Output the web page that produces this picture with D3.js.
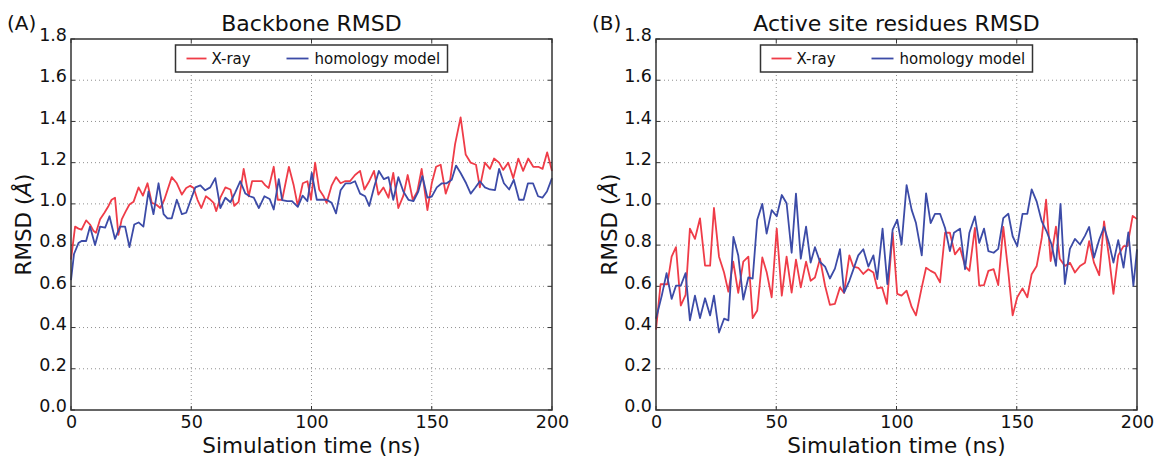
<!DOCTYPE html>
<html>
<head>
<meta charset="utf-8">
<script src="https://cdn.jsdelivr.net/npm/d3@7/dist/d3.min.js"></script>
<style>
  body { margin: 0; background: #fff; }
  text { font-family: "DejaVu Sans", sans-serif; fill: #111; }
</style>
</head>
<body>
<div id="chart"></div>
<script>
// ---- data: [time (ns), RMSD (Å)] ----
const xTicks = [0, 50, 100, 150, 200];
const yTicks = [0.0, 0.2, 0.4, 0.6, 0.8, 1.0, 1.2, 1.4, 1.6, 1.8];
const seriesNames = ["X-ray", "homology model"];
const seriesColors = ["#ef3c48", "#3c4ba7"];

const backboneXray = [
  [0,0.73],[1.7,0.89],[3.1,0.88],[4.4,0.875],[6.3,0.92],[7.9,0.9],[9.3,0.87],[10.4,0.86],[12.1,0.925],
  [13.9,0.957],[15.6,0.99],[16.9,1.02],[18.3,1.03],[19.7,0.85],[21.1,0.925],[22.8,0.965],[24.3,0.997],
  [26,1.01],[28.1,1.08],[29.9,1.04],[31.8,1.1],[33.6,1.005],[35.4,0.997],[37.1,0.98],[38.8,1.02],
  [41.9,1.13],[44,1.1],[46.1,1.045],[47.9,1.077],[49.6,1.088],[51,1.077],[52.6,1.02],[54.2,0.98],
  [56.1,1.037],[57.6,1.024],[59.3,1.005],[60.4,0.965],[62.1,1.03],[64.2,1.08],[66.3,1.07],[67.9,0.99],
  [69.7,1.01],[71.8,1.17],[73.9,1.037],[75.3,1.11],[77.4,1.11],[79.4,1.11],[80.8,1.09],[82.2,1.077],
  [84.3,1.18],[86,1.02],[87.8,1.02],[90.6,1.18],[92.6,1.09],[94.3,0.99],[96.4,1.1],[98.3,1.11],
  [99.8,1.02],[101.5,1.2],[103.2,1.07],[104.9,1.04],[106.3,1.005],[108.4,1.09],[110.2,1.13],[112.1,1.1],
  [113.9,1.11],[116,1.11],[118.1,1.14],[120.2,1.16],[122,1.07],[124,1.11],[126,1.16],[127.8,1.045],
  [129.9,1.08],[132,1.03],[134,1.15],[136.1,0.98],[138.2,1.04],[140,1.14],[142.1,1.02],[144,1.06],
  [145.8,1.17],[148.2,0.97],[150,1.1],[151.8,1.18],[153.7,1.19],[155.8,1.05],[157.6,1.11],[159.7,1.29],
  [162,1.42],[164.1,1.24],[166.2,1.2],[168.4,1.19],[170,1.08],[172.1,1.2],[174.2,1.17],[175.9,1.22],
  [178,1.2],[179.7,1.165],[181.8,1.2],[183.9,1.125],[186,1.22],[188,1.16],[190.1,1.22],[192.2,1.18],
  [194.3,1.18],[196.1,1.17],[198,1.25],[200,1.16]
];

const backboneModel = [
  [0,0.63],[1.25,0.757],[3.1,0.81],[4.4,0.82],[6.3,0.82],[7.9,0.89],[10,0.8],[12.1,0.89],[14.2,0.885],
  [16,0.94],[18.3,0.83],[20.4,0.89],[22.5,0.89],[24.3,0.79],[26.3,0.9],[28.1,0.91],[30.1,0.89],
  [32.2,1.06],[34.3,0.95],[36.4,1.1],[38.5,0.95],[40.1,0.93],[41.9,0.93],[44,1.02],[46.1,0.95],
  [47.9,0.957],[49.6,1.013],[51.7,1.08],[53.8,1.09],[55.8,1.066],[57.9,1.08],[60,1.125],[62.1,0.98],
  [64.2,1.03],[66.3,1.008],[68.3,1.056],[70.4,1.11],[72.5,1.05],[74.3,1.037],[76,1.03],[78.1,0.98],
  [80.4,1.037],[82.6,1.024],[84.3,0.973],[86.4,1.12],[87.8,1.018],[89.9,1.013],[91.9,1.013],[94.3,0.986],
  [96.3,1.04],[98.3,1.013],[100.1,1.15],[102.2,1.02],[104.2,1.02],[106.3,1.02],[108.4,1.005],[110.2,0.954],
  [112.1,1.066],[114.2,1.1],[116.3,1.1],[118.1,1.11],[120.2,1.05],[122.3,1.037],[124,0.99],[126,1.08],
  [128,1.16],[130.1,1.12],[132,1.13],[134,1.02],[136.1,1.13],[138.2,1.06],[140.3,1.02],[142.4,1.013],
  [144.4,1.06],[146.1,1.135],[148.2,1.03],[150,1.035],[152.1,1.08],[154.2,1.1],[156.2,1.1],[158.3,1.117],
  [160.1,1.186],[162,1.15],[164.3,1.1],[166.2,1.05],[168,1.077],[170,1.11],[172.1,1.08],[174.2,1.07],
  [176.3,1.067],[178,1.17],[180,1.1],[182.2,1.07],[184.1,1.117],[186.3,1.02],[188.2,1.02],[190,1.1],
  [192.1,1.1],[194.2,1.037],[196,1.03],[197.9,1.06],[200,1.125]
];

const activeXray = [
  [0,0.39],[1.9,0.61],[3.3,0.61],[4.7,0.61],[6.5,0.744],[8.3,0.79],[10.3,0.507],[12.3,0.558],[14.1,0.88],
  [16.2,0.83],[18.3,0.93],[20.4,0.7],[22.5,0.7],[24.1,0.98],[26.2,0.744],[28.3,0.667],[30.1,0.574],
  [32.1,0.72],[34.2,0.568],[36.3,0.72],[38.4,0.744],[40.2,0.446],[42.1,0.483],[44.2,0.74],[46,0.67],
  [48.1,0.547],[50.2,0.88],[52.3,0.555],[54.3,0.744],[56.4,0.57],[58.2,0.73],[60.2,0.595],[62.4,0.72],
  [64.3,0.627],[66.1,0.643],[68.2,0.734],[70.3,0.603],[72.3,0.51],[74.4,0.515],[76.5,0.595],[78.2,0.568],
  [80.4,0.75],[82,0.696],[84.1,0.69],[86.2,0.66],[88.3,0.683],[90.4,0.667],[92,0.59],[94,0.595],
  [96,0.515],[98.4,0.86],[100.3,0.563],[102.1,0.555],[104.2,0.579],[106.3,0.5],[108.1,0.459],[110.5,0.595],
  [112.3,0.69],[114.2,0.675],[116,0.664],[118.1,0.619],[120.2,0.86],[122.2,0.86],[124.3,0.755],[126.4,0.787],
  [128.5,0.698],[130.3,0.675],[132.6,0.883],[134.4,0.603],[136.4,0.606],[138.2,0.675],[140.4,0.683],
  [142.3,0.606],[144.4,0.888],[146.5,0.667],[148.3,0.459],[150.2,0.547],[152.4,0.59],[154.4,0.547],
  [156.2,0.659],[158.3,0.699],[160.4,0.835],[162.2,1.02],[164.1,0.723],[166.3,0.89],[167.9,0.734],
  [170,0.699],[172.1,0.715],[174.2,0.667],[176.3,0.699],[178.4,0.715],[180.1,0.819],[182.1,0.715],
  [184.3,0.654],[186.3,0.915],[188.5,0.731],[190.2,0.563],[192.2,0.75],[194.4,0.795],[196,0.795],
  [198.2,0.942],[200,0.926]
];

const activeModel = [
  [0,0.443],[2.4,0.555],[4.4,0.664],[6.5,0.539],[8.3,0.603],[10.3,0.603],[12.3,0.664],[14.1,0.435],
  [16.2,0.555],[18.3,0.446],[20.4,0.542],[22.5,0.459],[24.1,0.555],[26.2,0.376],[28.3,0.443],[30.1,0.435],
  [32.2,0.84],[34.2,0.75],[36.3,0.536],[38.4,0.643],[40.2,0.638],[42.1,0.923],[44.2,1.0],[46,0.856],
  [48.1,0.97],[50.2,0.94],[52.3,1.043],[54.3,1.003],[56.4,0.763],[58.2,1.05],[60.2,0.734],[62.4,0.89],
  [64.3,0.715],[66.1,0.79],[68.2,0.718],[70.3,0.696],[72.3,0.638],[74.4,0.686],[76.5,0.78],[78.2,0.57],
  [80.4,0.627],[82,0.68],[84.1,0.75],[86.2,0.78],[88.3,0.696],[90.4,0.75],[92,0.635],[94.2,0.88],
  [96.2,0.611],[98.4,0.875],[100.3,0.923],[102.1,0.803],[104.2,1.091],[106.3,0.971],[108.1,0.907],
  [110.5,0.75],[112.3,1.051],[114.2,0.907],[116,0.952],[118.1,0.952],[120.2,0.883],[122.2,0.771],
  [123.9,0.86],[126.4,0.88],[128.5,0.683],[130.3,0.86],[132.6,0.939],[134.4,0.811],[136.4,0.88],
  [138.2,0.771],[140.4,0.763],[142.3,0.782],[144.4,0.931],[146.5,0.952],[148.3,0.843],[150.2,0.795],
  [152.4,0.952],[154.4,0.952],[156.2,1.07],[158.3,1.011],[160.4,0.915],[162.4,0.867],[164.5,0.803],
  [166.3,0.699],[168.2,1.0],[170,0.611],[172.1,0.782],[174.2,0.83],[176.3,0.803],[178.4,0.846],
  [180.1,0.888],[182.1,0.739],[184.3,0.827],[186.3,0.888],[188.5,0.803],[190.2,0.715],[192.2,0.824],
  [194.4,0.691],[196.4,0.862],[198.5,0.603],[200,0.779]
];

const W = 1156, H = 457;
const svg = d3.select("#chart").append("svg")
  .attr("width", W)
  .attr("height", H);

svg.append("rect").attr("width", W).attr("height", H).attr("fill", "#fff");

function drawPanel(cfg) {
  const top = 39, bottom = 410;
  const x = d3.scaleLinear().domain([0, 200]).range([cfg.left, cfg.right]);
  const y = d3.scaleLinear().domain([0, 1.8]).range([bottom, top]);
  const g = svg.append("g");

  // dotted grid
  g.append("g").selectAll("line")
    .data(xTicks.slice(1, -1))
    .enter().append("line")
    .attr("x1", d => x(d)).attr("x2", d => x(d))
    .attr("y1", top).attr("y2", bottom)
    .attr("stroke", "#8f8f8f").attr("stroke-width", 1)
    .attr("stroke-dasharray", "1,3");
  g.append("g").selectAll("line")
    .data(yTicks.slice(1, -1))
    .enter().append("line")
    .attr("x1", cfg.left).attr("x2", cfg.right)
    .attr("y1", d => y(d)).attr("y2", d => y(d))
    .attr("stroke", "#8f8f8f").attr("stroke-width", 1)
    .attr("stroke-dasharray", "1,3");

  // axes (labels only, inward ticks drawn below)
  const xAxis = g.append("g")
    .attr("transform", `translate(0,${bottom})`)
    .call(d3.axisBottom(x).tickValues(xTicks).tickSize(0).tickPadding(6).tickFormat(d3.format("d")));
  xAxis.select(".domain").remove();
  xAxis.selectAll("text").attr("font-size", 17.5).attr("fill", "#111");

  const yAxis = g.append("g")
    .attr("transform", `translate(${cfg.left},0)`)
    .call(d3.axisLeft(y).tickValues(yTicks).tickSize(0).tickPadding(4).tickFormat(d3.format(".1f")));
  yAxis.select(".domain").remove();
  yAxis.selectAll("text").attr("font-size", 17.5).attr("fill", "#111").attr("dy", "0.1em");

  // inward ticks on all four sides
  xTicks.forEach(t => {
    g.append("line").attr("x1", x(t)).attr("x2", x(t)).attr("y1", bottom).attr("y2", bottom - 4).attr("stroke", "#333");
    g.append("line").attr("x1", x(t)).attr("x2", x(t)).attr("y1", top).attr("y2", top + 4).attr("stroke", "#333");
  });
  yTicks.forEach(t => {
    g.append("line").attr("x1", cfg.left).attr("x2", cfg.left + 4).attr("y1", y(t)).attr("y2", y(t)).attr("stroke", "#333");
    g.append("line").attr("x1", cfg.right).attr("x2", cfg.right - 4).attr("y1", y(t)).attr("y2", y(t)).attr("stroke", "#333");
  });

  // series
  const line = d3.line().x(d => x(d[0])).y(d => y(d[1]));
  cfg.series.forEach((s, i) => {
    g.append("path")
      .datum(s)
      .attr("d", line)
      .attr("fill", "none")
      .attr("stroke", seriesColors[i])
      .attr("stroke-width", 1.8)
      .attr("stroke-linejoin", "round");
  });

  // frame
  g.append("rect")
    .attr("x", cfg.left).attr("y", top)
    .attr("width", cfg.right - cfg.left).attr("height", bottom - top)
    .attr("fill", "none").attr("stroke", "#333").attr("stroke-width", 1.5);

  // legend (upper center)
  const cx = (cfg.left + cfg.right) / 2;
  const lw = 272, lh = 27;
  const lx = cx - lw / 2, ly = 45;
  const leg = g.append("g").attr("transform", `translate(${lx},${ly})`);
  leg.append("rect").attr("width", lw).attr("height", lh)
    .attr("fill", "#fff").attr("stroke", "#333").attr("stroke-width", 1.5);
  const offsets = [[11, 31, 36], [111, 133, 139]];
  seriesNames.forEach((name, i) => {
    const o = offsets[i];
    leg.append("line").attr("x1", o[0]).attr("x2", o[1]).attr("y1", lh / 2).attr("y2", lh / 2)
      .attr("stroke", seriesColors[i]).attr("stroke-width", 1.8);
    leg.append("text").attr("x", o[2]).attr("y", lh / 2 + 5.5).attr("font-size", 15).text(name);
  });

  // title, panel letter, axis labels
  svg.append("text").attr("x", cx).attr("y", 31).attr("text-anchor", "middle")
    .attr("font-size", 22).text(cfg.title);
  svg.append("text").attr("x", cfg.letterX).attr("y", 30).attr("font-size", 20).text(cfg.letter);
  svg.append("text").attr("x", cx).attr("y", 453).attr("text-anchor", "middle")
    .attr("font-size", 21.5).text("Simulation time (ns)");
  const yl = svg.append("text")
    .attr("transform", `translate(${cfg.ylabelX},${(top + bottom) / 2}) rotate(-90)`)
    .attr("text-anchor", "middle").attr("font-size", 21.5);
  yl.append("tspan").text("RMSD (");
  yl.append("tspan").attr("font-style", "italic").text("Å");
  yl.append("tspan").text(")");
}

drawPanel({
  left: 71, right: 552, title: "Backbone RMSD", letter: "(A)", letterX: 7, ylabelX: 31,
  series: [backboneXray, backboneModel]
});
drawPanel({
  left: 656, right: 1137, title: "Active site residues RMSD", letter: "(B)", letterX: 592, ylabelX: 617,
  series: [activeXray, activeModel]
});
</script>
</body>
</html>
